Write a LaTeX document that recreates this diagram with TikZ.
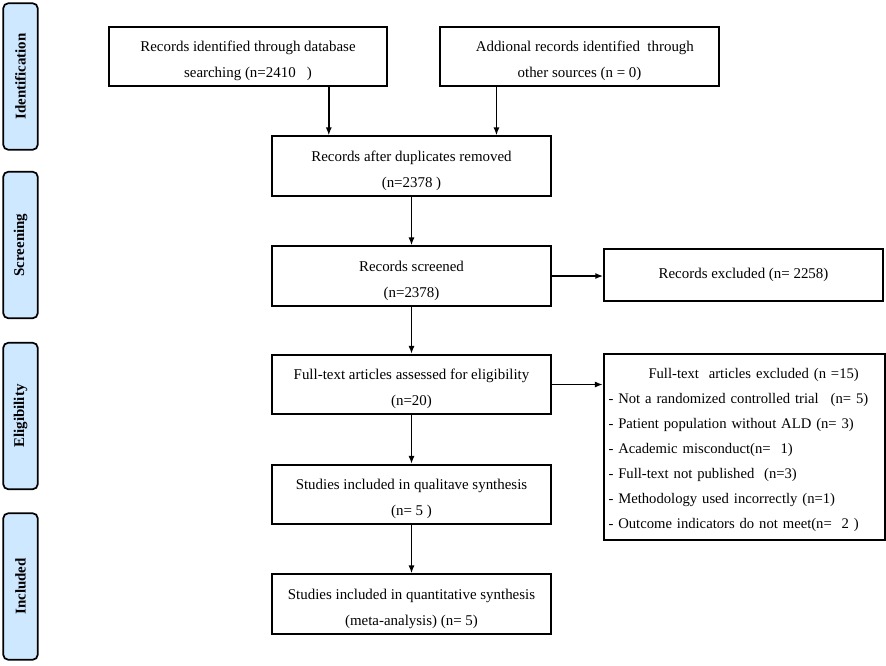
\documentclass[tikz,border=0pt]{standalone}
\usepackage{fontspec}
\setmainfont{Liberation Serif}
\usetikzlibrary{positioning,calc,arrows.meta}
\definecolor{phaseblue}{RGB}{206,232,255}
\newcommand{\topstrut}{\rule{0pt}{15pt}}
\tikzset{
	box/.style   = {draw, line width=1.3pt, minimum width=209pt, minimum height=44.5pt, inner sep=2pt, align=center, font=\fontsize{11.2}{19.5}\selectfont},
	phase/.style = {draw, line width=1.3pt, rounded corners=4pt, fill=phaseblue, minimum width=110pt, minimum height=26pt, rotate=90, font=\fontsize{11.2}{13}\selectfont\bfseries},
	arr/.style   = {line width=1.3pt, -{Latex[length=6pt,width=4.5pt]}},
}
\begin{document}
\begin{tikzpicture}[x=0.75pt, y=-0.75pt]
	\useasboundingbox (0,0) rectangle (886,665);
	% phases
	\node[name=ident, phase] at (20.5,76.5)  {Identification};
	\node[name=scr,   phase] at (20.5,245)   {Screening};
	\node[name=elig,  phase] at (20.5,416)   {Eligibility};
	\node[name=incl,  phase] at (20.5,586.5) {Included};
	% flow
	\node[name=recdb,  box] at (248,56.5)   {\topstrut Records identified through database\\searching (n=2410~~~)};
	\node[name=recoth, box] at (579.5,56.5) {\topstrut\hspace*{8pt}Addional records identified~ through\\other sources (n = 0)};
	\node[name=dup,    box] at (411.5,166)  {\topstrut Records after duplicates removed\\(n=2378 )};
	\node[name=screen, box] at (411.5,276)  {\topstrut Records screened\\(n=2378)};
	\node[name=exrec,  box, minimum height=39pt] at (743.5,275) {Records excluded (n= 2258)};
	\node[name=full,   box] at (411.5,384.5) {\topstrut Full-text articles assessed for eligibility\\(n=20)};
	\node[name=exfull, box, align=left, text width=204pt, minimum width=211pt, minimum height=139.5pt, font=\fontsize{11}{18.8}\selectfont] at (744.5,447)
		{\rule{0pt}{12pt}\hspace*{30pt}Full-text~ articles excluded (n =15)\\
		 - Not a randomized controlled trial\hspace{9pt}(n= 5)\\
		 - Patient population without ALD (n= 3)\\
		 - Academic misconduct(n=~ 1)\\
		 - Full-text not published~ (n=3)\\
		 - Methodology used incorrectly (n=1)\\
		 - Outcome indicators do not meet(n=~ 2 )};
	\node[name=qual,   box] at (411.5,494.5) {\topstrut Studies included in qualitave synthesis\\(n= 5 )};
	\node[name=quant,  box] at (411.5,604)   {\topstrut Studies included in quantitative synthesis\\(meta-analysis) (n= 5)};
	% arrows
	\coordinate (dupl) at ($(dup.north west)!0.205!(dup.north east)$);
	\coordinate (dupr) at ($(dup.north west)!0.803!(dup.north east)$);
	\draw[arr] (recdb.south -| dupl) -- (dupl);
	\draw[arr] (recoth.south -| dupr) -- (dupr);
	\draw[arr] (dup) -- (screen);
	\draw[arr] (screen) -- (full);
	\draw[arr] (full) -- (qual);
	\draw[arr] (qual) -- (quant);
	\draw[arr] (screen.east) -- (screen.east -| exrec.west);
	\draw[arr] (full.east) -- (full.east -| exfull.west);
\end{tikzpicture}
\end{document}
